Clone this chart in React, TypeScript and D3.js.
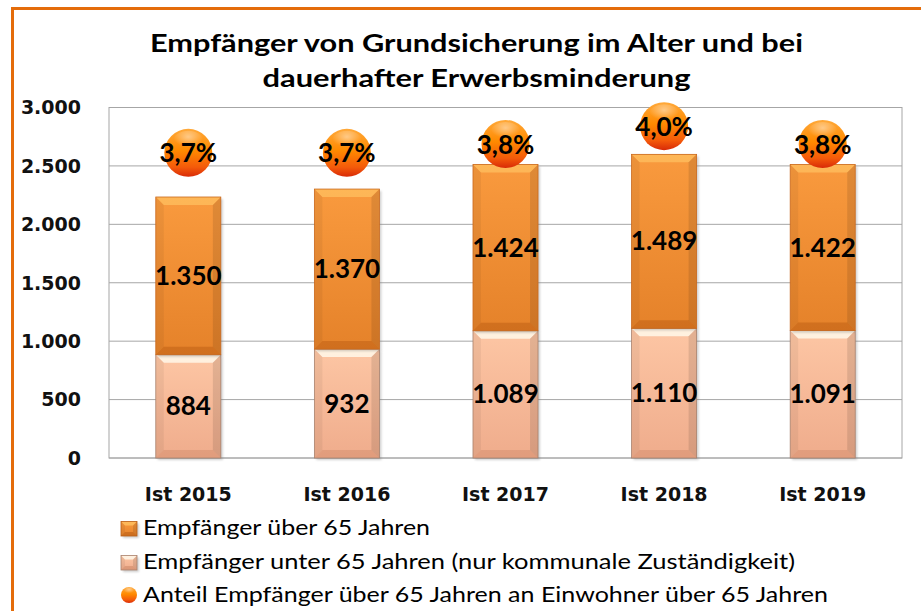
import React from 'react';
import * as d3 from 'd3';

const categories = ['Ist 2015', 'Ist 2016', 'Ist 2017', 'Ist 2018', 'Ist 2019'];
const under65 = [884, 932, 1089, 1110, 1091];
const over65 = [1350, 1370, 1424, 1489, 1422];
const sharePct = [3.7, 3.7, 3.8, 4.0, 3.8];
const yTicks = [0, 500, 1000, 1500, 2000, 2500, 3000];
const titleLines = ['Empfänger von Grundsicherung im Alter und bei', 'dauerhafter Erwerbsminderung'];
const legendLabels = [
  'Empfänger über 65 Jahren',
  'Empfänger unter 65 Jahren (nur kommunale Zuständigkeit)',
  'Anteil Empfänger über 65 Jahren an Einwohner über 65 Jahren',
];

const W = 921;
const H = 611;
const plot = { left: 109, right: 902, top: 107.5, bottom: 458 };

const locale = d3.formatLocale({ decimal: ',', thousands: '.', grouping: [3], currency: ['', '€'] });
const fmtInt = locale.format(',d');
const fmtPct = (v: number) => locale.format('.1f')(v) + '%';

const x = d3.scaleBand<string>().domain(categories).range([plot.left, plot.right]).paddingInner(0.59).paddingOuter(0.295);
const y = d3.scaleLinear().domain([0, 3000]).range([plot.bottom, plot.top]);
// hidden secondary axis for the percentage share
const yPct = d3.scaleLinear().domain([0.27, 4.21]).range([plot.bottom, plot.top]);

const AXIS_FONT = '"DejaVu Sans", Verdana, sans-serif';
const TEXT_FONT = 'Lato, Carlito, Calibri, sans-serif';

function Bevel(props: { x: number; y: number; w: number; h: number; fill: string; stroke: string; top: string; topOp: number; bottom: string; bottomOp: number; b: number }) {
  const { x: bx, y: by, w, h, b } = props;
  const bb = Math.min(b, h / 2);
  const pts = (a: number[][]) => a.map((p) => p.join(',')).join(' ');
  return (
    <g>
      <rect x={bx + 2} y={by + 2} width={w} height={h} fill="#7a7a7a" opacity={0.35} filter="url(#shadowBlur)" />
      <rect x={bx} y={by} width={w} height={h} fill={props.fill} />
      <polygon points={pts([[bx, by], [bx + w, by], [bx + w - bb, by + bb], [bx + bb, by + bb]])} fill={props.top} opacity={props.topOp} />
      <polygon points={pts([[bx, by + h], [bx + w, by + h], [bx + w - bb, by + h - bb], [bx + bb, by + h - bb]])} fill={props.bottom} opacity={props.bottomOp} />
      <polygon points={pts([[bx, by], [bx + bb, by + bb], [bx + bb, by + h - bb], [bx, by + h]])} fill="#000" opacity={0.05} />
      <polygon points={pts([[bx + w, by], [bx + w - bb, by + bb], [bx + w - bb, by + h - bb], [bx + w, by + h]])} fill="#000" opacity={0.1} />
      <rect x={bx} y={by} width={w} height={h} fill="none" stroke={props.stroke} strokeWidth={0.8} />
    </g>
  );
}

export default function App() {
  const bw = x.bandwidth();
  return (
    <svg width={W} height={H} style={{ position: 'absolute', left: 0, top: 0, background: '#fff' }}>
      <defs>
        <linearGradient id="gUpper" x1="0" y1="0" x2="0" y2="1">
          <stop offset="0%" stopColor="#F99A3E" />
          <stop offset="100%" stopColor="#E5822A" />
        </linearGradient>
        <linearGradient id="gLower" x1="0" y1="0" x2="0" y2="1">
          <stop offset="0%" stopColor="#FDC6A4" />
          <stop offset="100%" stopColor="#EFAC8C" />
        </linearGradient>
        <linearGradient id="gBall" x1="0" y1="0" x2="0" y2="1">
          <stop offset="0%" stopColor="#FFA93A" />
          <stop offset="45%" stopColor="#FF8A00" />
          <stop offset="80%" stopColor="#F45A0A" />
          <stop offset="100%" stopColor="#D82A08" />
        </linearGradient>
        <radialGradient id="gHi" cx="0.5" cy="0.3" r="0.5">
          <stop offset="0%" stopColor="#fff" stopOpacity={0.45} />
          <stop offset="100%" stopColor="#fff" stopOpacity={0} />
        </radialGradient>
        <filter id="shadowBlur" x="-20%" y="-20%" width="140%" height="140%">
          <feGaussianBlur stdDeviation="1.2" />
        </filter>
      </defs>

      {/* outer border */}
      <rect x={12.5} y={8.5} width={930} height={640} fill="none" stroke="#E46C0A" strokeWidth={3} />

      {/* title */}
      {titleLines.map((t, i) => (
        <text key={i} x={476.5} y={52 + i * 35} textAnchor="middle" fontFamily={TEXT_FONT} fontWeight="bold" fontSize={25}
          textLength={i === 0 ? 653 : 428} lengthAdjust="spacingAndGlyphs" fill="#000">{t}</text>
      ))}

      {/* gridlines */}
      {yTicks.map((t) => (
        <line key={t} x1={plot.left} x2={plot.right} y1={y(t)} y2={y(t)} stroke="#A6A6A6" strokeWidth={1} />
      ))}
      <rect x={plot.left} y={plot.top} width={plot.right - plot.left} height={plot.bottom - plot.top} fill="none" stroke="#A6A6A6" strokeWidth={1} />

      {/* y axis labels */}
      {yTicks.map((t) => (
        <text key={t} x={81} y={y(t)} dy="0.36em" textAnchor="end" fontFamily={AXIS_FONT} fontWeight="bold" fontSize={19} fill="#111">{fmtInt(t)}</text>
      ))}

      {/* bars */}
      {categories.map((c, i) => {
        const bx = x(c)!;
        const y0 = y(0);
        const y1 = y(under65[i]);
        const y2 = y(under65[i] + over65[i]);
        return (
          <g key={c}>
            <Bevel x={bx} y={y1} w={bw} h={y0 - y1} fill="url(#gLower)" stroke="#A8826E" top="#FFF8EA" topOp={0.85} bottom="#B87050" bottomOp={0.25} b={8} />
            <Bevel x={bx} y={y2} w={bw} h={y1 - y2} fill="url(#gUpper)" stroke="#C9691E" top="#FFC060" topOp={0.75} bottom="#A84E0A" bottomOp={0.35} b={8} />
          </g>
        );
      })}

      {/* segment labels */}
      {categories.map((c, i) => {
        const cx = x(c)! + bw / 2;
        const m1 = (y(0) + y(under65[i])) / 2;
        const m2 = (y(under65[i]) + y(under65[i] + over65[i])) / 2;
        return (
          <g key={c} fontFamily={TEXT_FONT} fontWeight="bold" fontSize={26} textAnchor="middle" fill="#000">
            <text x={cx} y={m1} dy="0.35em">{fmtInt(under65[i])}</text>
            <text x={cx} y={m2} dy="0.35em">{fmtInt(over65[i])}</text>
          </g>
        );
      })}

      {/* share circles */}
      {categories.map((c, i) => {
        const cx = x(c)! + bw / 2;
        const cy = yPct(sharePct[i]);
        return (
          <g key={c}>
            <circle cx={cx} cy={cy} r={24} fill="url(#gBall)" />
            <ellipse cx={cx} cy={cy - 12} rx={15} ry={10} fill="url(#gHi)" />
            <text x={cx} y={cy} dy="0.37em" textAnchor="middle" fontFamily={TEXT_FONT} fontWeight="bold" fontSize={26} fill="#000">{fmtPct(sharePct[i])}</text>
          </g>
        );
      })}

      {/* x axis labels */}
      {categories.map((c) => (
        <text key={c} x={x(c)! + bw / 2} y={501} textAnchor="middle" fontFamily={AXIS_FONT} fontWeight="bold" fontSize={19} fill="#111">{c}</text>
      ))}

      {/* legend */}
      <g>
        <Bevel x={121} y={521.5} w={16} h={14.5} fill="url(#gUpper)" stroke="#B85F18" top="#FFC060" topOp={0.8} bottom="#A84E0A" bottomOp={0.4} b={4} />
        <Bevel x={121} y={555.5} w={16} h={14.5} fill="url(#gLower)" stroke="#A8826E" top="#FFF8EA" topOp={0.85} bottom="#B87050" bottomOp={0.35} b={4} />
        <circle cx={129} cy={595} r={8} fill="url(#gBall)" />
        <ellipse cx={129} cy={591} rx={5.5} ry={3.5} fill="url(#gHi)" />
        {legendLabels.map((t, i) => (
          <text key={i} x={143} y={[535, 569, 602][i]} fontFamily={TEXT_FONT} fontSize={22} fill="#000"
            textLength={[287, 652, 685][i]} lengthAdjust="spacingAndGlyphs">{t}</text>
        ))}
      </g>
    </svg>
  );
}
